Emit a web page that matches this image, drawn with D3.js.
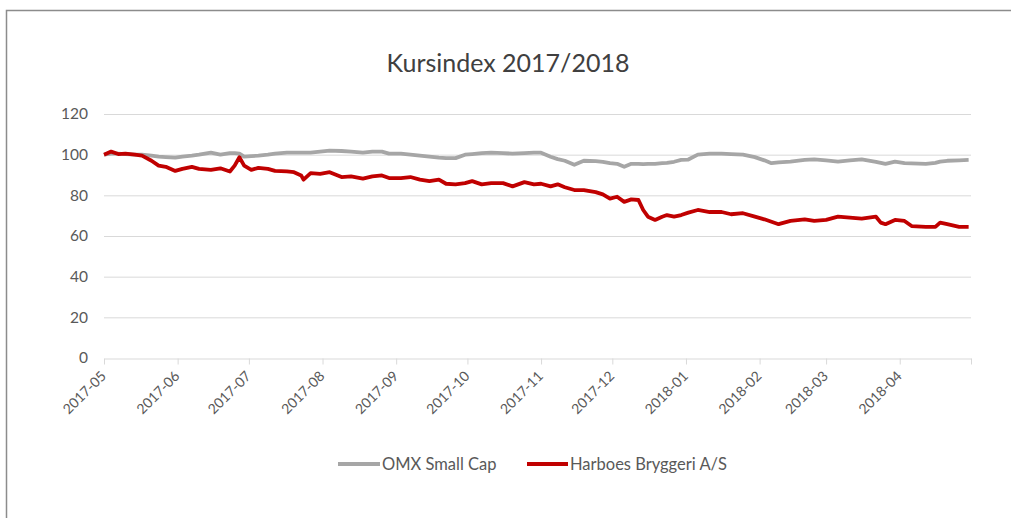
<!DOCTYPE html>
<html><head><meta charset="utf-8">
<script src="https://cdn.jsdelivr.net/npm/d3@7"></script>
<style>
html,body{margin:0;padding:0;background:#fff;}
svg{display:block;}
</style></head>
<body>
<svg id="chart" width="1011" height="518"></svg>
<script>
const title = "Kursindex 2017/2018";
const seriesNames = ["OMX Small Cap", "Harboes Bryggeri A/S"];
const monthTicks = ["2017-05","2017-06","2017-07","2017-08","2017-09","2017-10","2017-11","2017-12","2018-01","2018-02","2018-03","2018-04"];
const yTicks = [0,20,40,60,80,100,120];

const dates = ["2017-05-01","2017-05-04","2017-05-07","2017-05-10","2017-05-14","2017-05-17","2017-05-21","2017-05-24","2017-05-27","2017-05-31",
"2017-06-03","2017-06-07","2017-06-10","2017-06-15","2017-06-19","2017-06-23","2017-06-25","2017-06-27","2017-06-29",
"2017-07-02","2017-07-05","2017-07-09","2017-07-12","2017-07-17","2017-07-20","2017-07-23","2017-07-24","2017-07-27","2017-07-31",
"2017-08-04","2017-08-09","2017-08-13","2017-08-18","2017-08-22","2017-08-26","2017-08-29",
"2017-09-03","2017-09-07","2017-09-11","2017-09-15","2017-09-19","2017-09-22","2017-09-26","2017-09-30",
"2017-10-03","2017-10-07","2017-10-11","2017-10-16","2017-10-20","2017-10-25","2017-10-29",
"2017-11-01","2017-11-05","2017-11-08","2017-11-11","2017-11-15","2017-11-19","2017-11-24","2017-11-27","2017-11-30",
"2017-12-03","2017-12-06","2017-12-09","2017-12-12","2017-12-14","2017-12-16","2017-12-19","2017-12-22","2017-12-24","2017-12-27","2017-12-30",
"2018-01-02","2018-01-06","2018-01-11","2018-01-16","2018-01-20","2018-01-25","2018-01-30",
"2018-02-03","2018-02-06","2018-02-09","2018-02-14","2018-02-20","2018-02-24",
"2018-03-01","2018-03-06","2018-03-11","2018-03-16","2018-03-22","2018-03-24","2018-03-26","2018-03-30",
"2018-04-03","2018-04-06","2018-04-12","2018-04-16","2018-04-18","2018-04-21","2018-04-26","2018-04-30"];

const omx = [100,100.5,100.5,100.3,100,100,99.5,99,98.8,98.5,
99,99.5,100,101,100,100.8,100.8,100.5,99,
99.3,99.5,100,100.5,101,101,101,101,101,101.5,
102,101.8,101.5,101,101.5,101.5,100.5,
100.5,100,99.5,99,98.5,98.3,98.3,100,
100.3,100.8,101,100.8,100.5,100.8,101,
101,99,97.8,97,95,97,96.8,96.5,95.8,
95.5,94,95.5,95.5,95.3,95.5,95.5,95.8,96,96.5,97.4,
97.6,100,100.5,100.5,100.3,100,98.8,
97.2,95.8,96.2,96.6,97.4,97.7,
97.2,96.6,97.2,97.7,96.5,96,95.5,96.6,
95.8,95.7,95.5,96,96.6,97,97.2,97.4];

const harboes = [100,101.5,100.3,100.5,100,99.5,97,94.6,94,92,
93,94,93,92.5,93.3,91.7,94.6,98.7,94.6,
92.5,93.5,93,92,91.8,91.4,89.8,87.7,90.9,90.6,
91.4,89,89.3,88.2,89.3,89.8,88.5,
88.5,89,87.7,87,87.7,85.7,85.4,86,
87,85.4,86,86,84.4,86.5,85.4,
85.7,84.4,85.4,84,82.6,82.6,81.6,80.5,78.4,
79.3,76.8,78,77.7,72.8,69.5,67.9,69.5,70.3,69.5,70.3,
71.5,72.8,71.8,71.8,70.7,71.2,69.5,
68.2,67,65.8,67.4,68.2,67.4,
67.9,69.5,69,68.5,69.5,66.6,65.8,67.9,
67.4,64.9,64.5,64.5,66.6,65.8,64.5,64.5];

(function () {
const parse = d3.timeParse("%Y-%m-%d");
const parseM = d3.timeParse("%Y-%m");
const fmtM = d3.timeFormat("%Y-%m");

const svg = d3.select("#chart");
const W = 1011, H = 518;
const mL = 104, mR = 971, mT = 114, mB = 358;
const font = "Lato, 'Open Sans', sans-serif";
const textCol = "#595959";

svg.append("rect").attr("x", 6.5).attr("y", 10.5).attr("width", W + 20).attr("height", H + 20)
  .attr("fill", "#fff").attr("stroke", "#8c8c8c").attr("stroke-width", 1.5);

const x = d3.scaleTime().domain([parse("2017-05-01"), parse("2018-05-01")]).range([mL, mR]);
const y = d3.scaleLinear().domain([0, 120]).range([mB, mT]);

svg.append("text").attr("x", 508).attr("y", 72).attr("text-anchor", "middle")
  .attr("font-family", font).attr("font-size", 25).attr("fill", "#404040").text(title);

svg.append("g").selectAll("line").data(yTicks.filter(v => v > 0)).join("line")
  .attr("x1", mL).attr("x2", mR).attr("y1", d => y(d) + 0.5).attr("y2", d => y(d) + 0.5)
  .attr("stroke", "#d9d9d9").attr("stroke-width", 1);

const yAxis = d3.axisLeft(y).tickValues(yTicks).tickSize(0).tickPadding(16);
const gy = svg.append("g").attr("transform", `translate(${mL},0)`).call(yAxis);
gy.select(".domain").remove();
gy.selectAll("text").attr("font-family", font).attr("font-size", 15.5).attr("fill", textCol);

const tickDates = monthTicks.map(parseM).concat([parse("2018-05-01")]);
const xAxis = d3.axisBottom(x).tickValues(tickDates).tickSize(6).tickSizeOuter(0)
  .tickFormat(d => monthTicks.includes(fmtM(d)) ? fmtM(d) : "");
const gx = svg.append("g").attr("transform", `translate(0,${mB + 0.5})`).call(xAxis);
gx.select(".domain").attr("stroke", "#d9d9d9");
gx.selectAll(".tick line").attr("stroke", "#d9d9d9");
gx.selectAll("text").attr("font-family", font).attr("font-size", 14).attr("fill", textCol)
  .attr("text-anchor", "end").attr("dy", "0.35em")
  .attr("transform", "translate(-1,15) rotate(-45)").attr("y", 0).attr("x", 0);

const data = dates.map((d, i) => ({ date: parse(d), omx: omx[i], harb: harboes[i] }));
const lineO = d3.line().x(d => x(d.date)).y(d => y(d.omx));
const lineH = d3.line().x(d => x(d.date)).y(d => y(d.harb));
svg.append("path").datum(data).attr("d", lineO).attr("fill", "none")
  .attr("stroke", "#a6a6a6").attr("stroke-width", 3.8).attr("stroke-linejoin", "round");
svg.append("path").datum(data).attr("d", lineH).attr("fill", "none")
  .attr("stroke", "#c00000").attr("stroke-width", 3.8).attr("stroke-linejoin", "round");

const legend = [
  { name: seriesNames[0], color: "#a6a6a6", x1: 338, x2: 380 },
  { name: seriesNames[1], color: "#c00000", x1: 527, x2: 568 }
];
const lg = svg.append("g");
legend.forEach(l => {
  lg.append("line").attr("x1", l.x1).attr("x2", l.x2).attr("y1", 464).attr("y2", 464)
    .attr("stroke", l.color).attr("stroke-width", 3.8);
  lg.append("text").attr("x", l.x2 + 2).attr("y", 464).attr("dy", "0.35em")
    .attr("font-family", font).attr("font-size", 16.5).attr("fill", textCol).text(l.name);
});
})();
</script>
</body></html>
